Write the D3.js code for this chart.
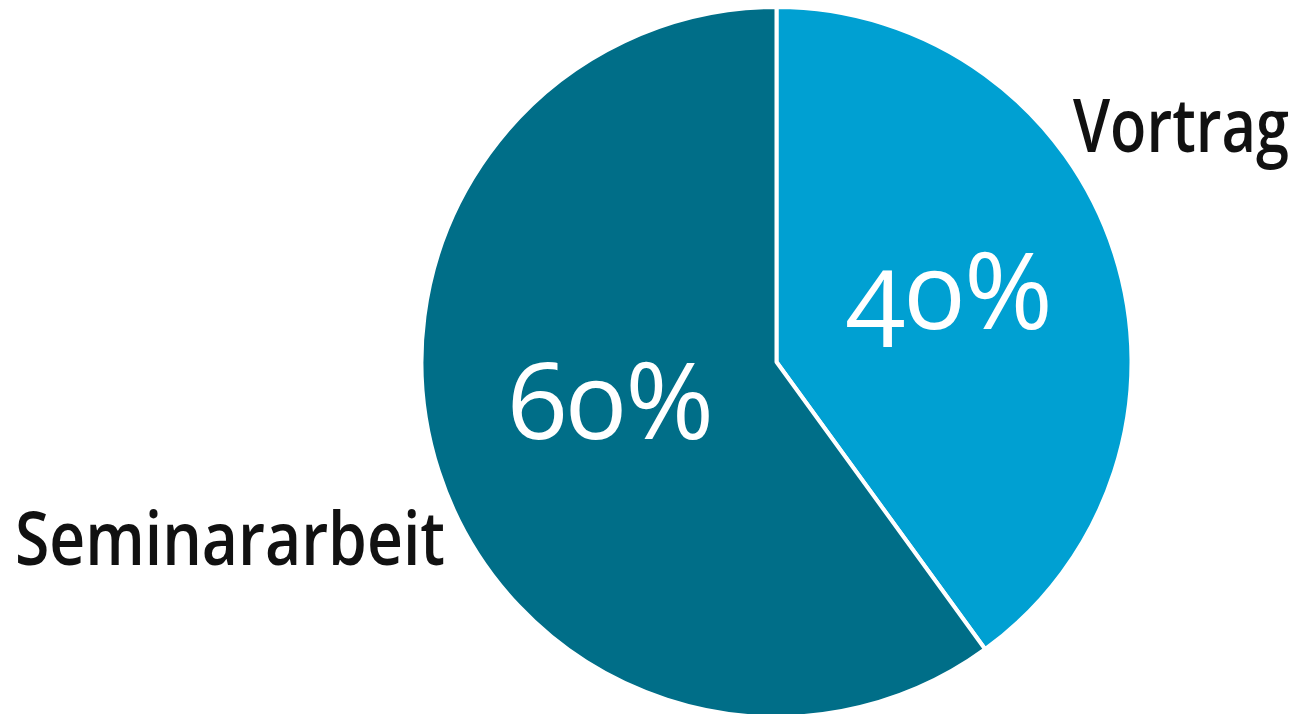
<!DOCTYPE html>
<html><head><meta charset="utf-8">
<script src="https://cdn.jsdelivr.net/npm/d3@7"></script>
<style>
html,body{margin:0;padding:0;background:#fff;}
svg{display:block;}
text{font-family:"Open Sans","Lato",sans-serif;font-weight:500;}
</style></head>
<body>
<svg id="chart" width="1299" height="714"></svg>
<script>
const categories = ["Vortrag", "Seminararbeit"];
const values = [40, 60];
const valueLabels = ["40%", "60%"];
const colors = ["#00A0D2", "#006E88"];

const svg = d3.select("#chart");
const cx = 776.5, cy = 362, r = 355;
const g = svg.append("g").attr("transform", `translate(${cx},${cy})`);

const pie = d3.pie().sort(null).value(d => d.v);
const data = pie(categories.map((c, i) => ({c, v: values[i], l: valueLabels[i], col: colors[i]})));
const arc = d3.arc().innerRadius(0).outerRadius(r);
const labelArc = d3.arc().innerRadius(178).outerRadius(178);

g.selectAll("path").data(data).join("path")
  .attr("d", arc)
  .attr("fill", d => d.data.col)
  .attr("stroke", "#fff")
  .attr("stroke-width", 4)
  .attr("stroke-linejoin", "round");

g.selectAll("text.pct").data(data).join("text")
  .attr("class", "pct")
  .attr("x", d => labelArc.centroid(d)[0] + 4)
  .attr("y", d => labelArc.centroid(d)[1] + 22)
  .attr("text-anchor", "middle")
  .attr("fill", "#fff")
  .attr("textLength", 206)
  .attr("lengthAdjust", "spacingAndGlyphs")
  .style("font-size", "106px")
  .style("font-weight", "500")
  .style("font-feature-settings", "'onum' 1")
  .text(d => d.data.l);

// outer category labels
svg.append("text").attr("x", 1073).attr("y", 152)
  .attr("textLength", 216).attr("lengthAdjust", "spacingAndGlyphs")
  .style("font-size", "74px").style("font-weight", "600").attr("fill", "#111").text(categories[0]);
svg.append("text").attr("x", 15).attr("y", 565)
  .attr("textLength", 430).attr("lengthAdjust", "spacingAndGlyphs")
  .style("font-size", "74px").style("font-weight", "600").attr("fill", "#111").text(categories[1]);
</script>
</body></html>
